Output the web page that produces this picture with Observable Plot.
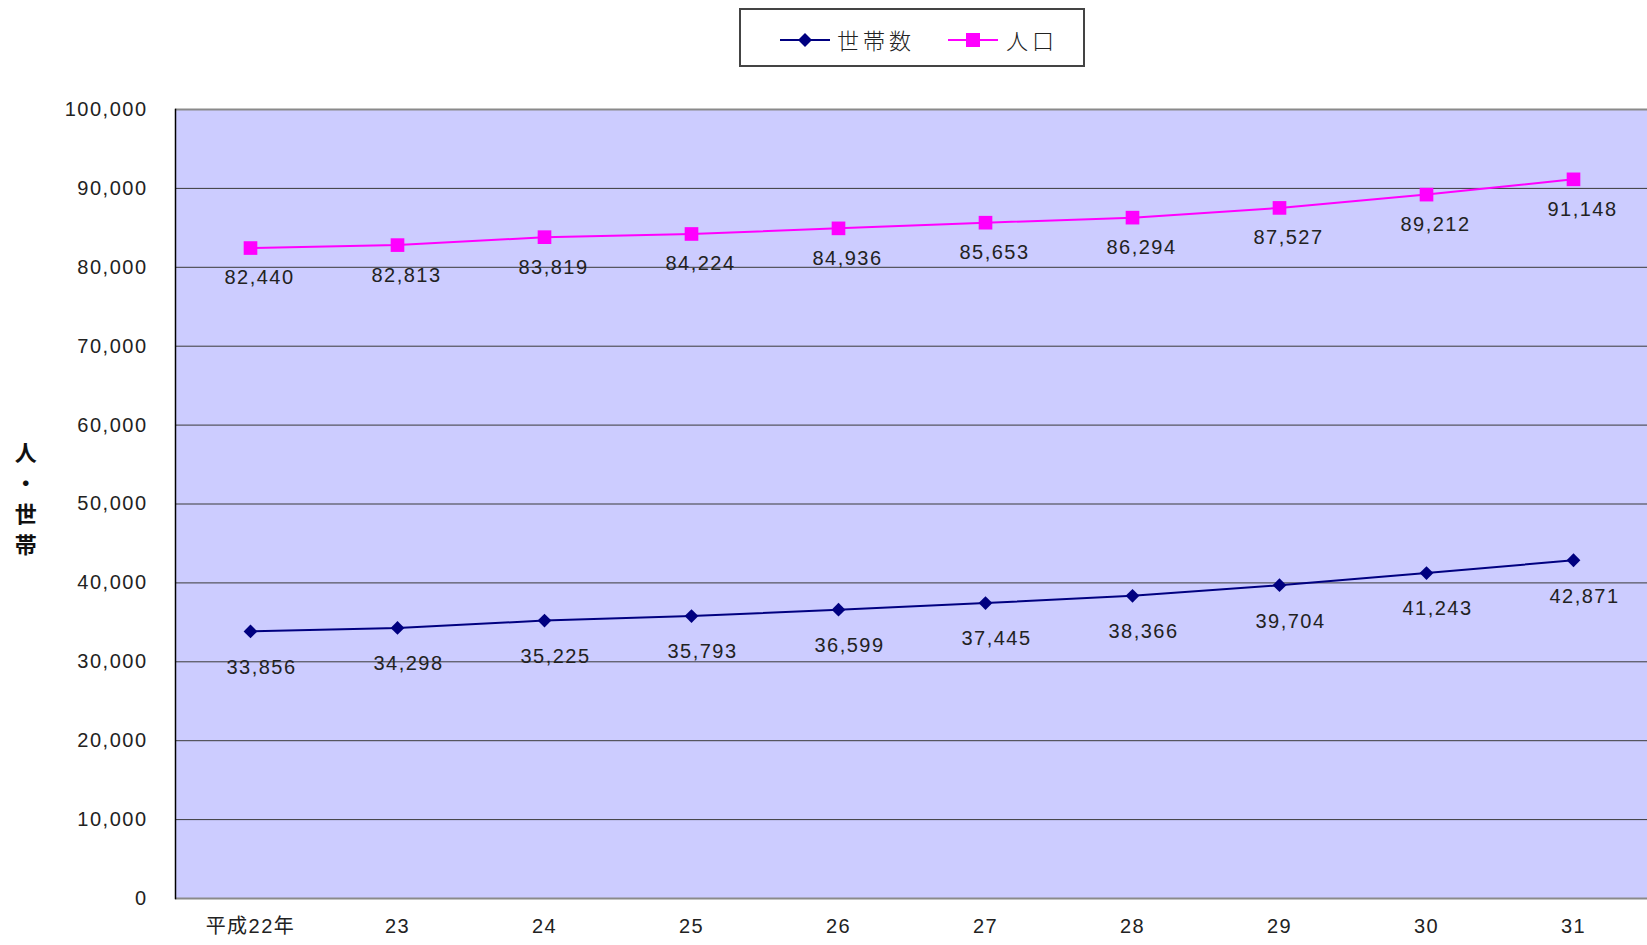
<!DOCTYPE html>
<html>
<head>
<meta charset="utf-8">
<script src="https://cdn.jsdelivr.net/npm/d3@7"></script>
<script src="https://cdn.jsdelivr.net/npm/@observablehq/plot@0.6"></script>
<style>
  html, body { margin: 0; padding: 0; background: #fff; }
  body { width: 1647px; height: 945px; overflow: hidden; font-family: "Liberation Sans", "Noto Sans CJK JP", sans-serif; }
  #top { position: relative; height: 70px; }
  #legend { position: absolute; left: 739px; top: 8px; width: 342px; height: 55px; border: 2px solid #444; background: #fff; }
  .sw { position: absolute; top: 18px; }
  .lt { position: absolute; top: 13px; font-size: 22px; letter-spacing: 4px; color: #222; line-height: 32px; font-family: "Noto Sans CJK JP", sans-serif; font-weight: 300; }
  #chart svg { display: block; }
</style>
</head>
<body>
<div id="top"><div id="legend"></div></div>
<div id="chart"></div>
<script>
const years = ["平成22年", "23", "24", "25", "26", "27", "28", "29", "30", "31"];
const households = [33856, 34298, 35225, 35793, 36599, 37445, 38366, 39704, 41243, 42871];
const population = [82440, 82813, 83819, 84224, 84936, 85653, 86294, 87527, 89212, 91148];
const yTicks = [0, 10000, 20000, 30000, 40000, 50000, 60000, 70000, 80000, 90000, 100000];
const seriesNames = ["世帯数", "人口"];
const yTitle = "人\n・\n世\n帯";

const navy = "#000080";
const magenta = "#ff00ff";
const fmt = d3.format(",");

const hh = years.map((y, i) => ({year: y, value: households[i]}));
const pop = years.map((y, i) => ({year: y, value: population[i]}));

// Legend (HTML)
const legend = document.getElementById("legend");
legend.innerHTML = `
  <svg class="sw" style="left:39px" width="50" height="24"><line x1="0" y1="12" x2="50" y2="12" stroke="${navy}" stroke-width="2"/><path d="M25,5 L32,12 L25,19 L18,12 Z" fill="${navy}"/></svg>
  <div class="lt" style="left:96px">${seriesNames[0]}</div>
  <svg class="sw" style="left:207px" width="50" height="24"><line x1="0" y1="12" x2="50" y2="12" stroke="${magenta}" stroke-width="2"/><rect x="18" y="5" width="14" height="14" fill="${magenta}"/></svg>
  <div class="lt" style="left:265px">${seriesNames[1]}</div>
`;

const chart = Plot.plot({
  width: 1647,
  height: 875,
  marginTop: 39,
  marginBottom: 47,
  marginLeft: 175,
  marginRight: 0,
  style: {fontFamily: "'Liberation Sans', 'Noto Sans CJK JP', sans-serif", fontSize: "20px", color: "#222", letterSpacing: "1.5px", background: "#fff"},
  x: {type: "point", domain: years, padding: 0.5, label: null},
  y: {domain: [0, 100000], label: null},
  marks: [
    Plot.frame({fill: "#ccccff"}),
    Plot.ruleY(yTicks.filter(v => v > 0 && v < 100000), {stroke: "#3a3a3a", strokeWidth: 1}),
    Plot.ruleY([yTicks[0], yTicks[yTicks.length - 1]], {stroke: "#8a8a8a", strokeWidth: 2}),
    Plot.frame({anchor: "left", stroke: "#000", strokeWidth: 1.5}),
    Plot.axisY({ticks: yTicks, tickFormat: fmt, tickSize: 0, tickPadding: 28, label: null}),
    Plot.axisX({tickSize: 0, tickPadding: 20, label: null}),
    Plot.text([yTitle], {text: d => d, frameAnchor: "left", textAnchor: "middle", dx: -149, dy: -7, fontSize: 22, fontWeight: "bold", lineHeight: 1.4, fill: "#111"}),
    Plot.line(pop, {x: "year", y: "value", stroke: magenta, strokeWidth: 2}),
    Plot.line(hh, {x: "year", y: "value", stroke: navy, strokeWidth: 2}),
    Plot.dot(pop, {x: "year", y: "value", symbol: "square", r: 7.7, fill: magenta, stroke: "none"}),
    Plot.dot(hh, {x: "year", y: "value", symbol: "diamond2", r: 6.2, fill: navy, stroke: "none"}),
    Plot.text(pop, {x: "year", y: "value", text: d => fmt(d.value), dx: 9, dy: 30, fill: "#222"}),
    Plot.text(hh, {x: "year", y: "value", text: d => fmt(d.value), dx: 11, dy: 36, fill: "#222"})
  ]
});
document.getElementById("chart").appendChild(chart);
</script>
</body>
</html>
